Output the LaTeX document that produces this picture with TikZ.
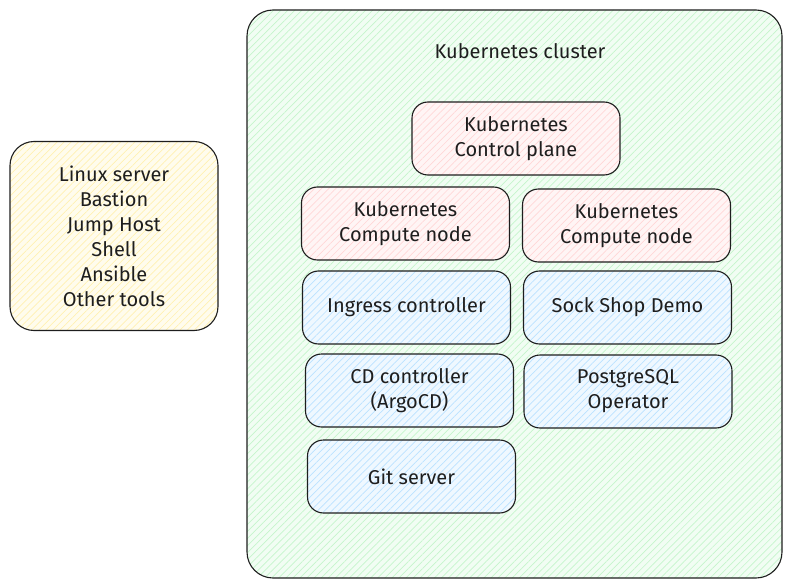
\documentclass[tikz,border=0pt]{standalone}
\usepackage{fontspec}
\setmainfont{Fira Sans}
\usetikzlibrary{patterns.meta}

\definecolor{ink}{HTML}{1E1E1E}
\definecolor{hatchgreen}{HTML}{B2F2BB}
\definecolor{hatchyellow}{HTML}{FFEC99}
\definecolor{hatchred}{HTML}{FFC9C9}
\definecolor{hatchblue}{HTML}{A5D8FF}

\begin{document}
\begin{tikzpicture}[x=1pt, y=-1pt, font=\fontsize{20}{25}\selectfont,
  sketch/.style={draw=ink, line width=1.1pt, rounded corners=16pt, align=center, text=ink, inner sep=0pt},
  hatched/.style={preaction={fill=#1!18}, pattern={Lines[angle=45,distance=5pt,line width=0.7pt]}, pattern color=#1!75},
  cluster/.style={sketch, hatched=hatchgreen, rounded corners=26pt, minimum width=535pt, minimum height=568pt},
  tools/.style={sketch, hatched=hatchyellow, rounded corners=24pt, minimum width=208pt, minimum height=189pt},
  infra/.style={sketch, hatched=hatchred, minimum width=208pt, minimum height=73pt},
  app/.style={sketch, hatched=hatchblue, minimum width=208pt, minimum height=73pt}]
      \useasboundingbox (0, 0) rectangle (792, 588);

      % left side
      \node[tools] (server) at (114, 236) {Linux server\\Bastion\\Jump Host\\Shell\\Ansible\\Other tools};

      % cluster frame
      \node[cluster] (cluster) at (514.5, 294) {};
      \node[text=ink] (title) at (520, 51) {Kubernetes cluster};

      \node[infra] (ctrl)  at (516, 138.5)   {Kubernetes\\Control plane};
      \node[infra] (comp1) at (405.5, 223.5) {Kubernetes\\Compute node};
      \node[infra] (comp2) at (626.5, 225.5) {Kubernetes\\Compute node};

      \node[app] (ingress) at (406.5, 307.5) {Ingress controller};
      \node[app] (sock)    at (627.5, 307.5) {Sock Shop Demo};
      \node[app] (cd)      at (409.5, 390.5) {CD controller\\(ArgoCD)};
      \node[app] (pg)      at (628, 391.5)   {PostgreSQL\\Operator};
      \node[app] (git)     at (411.5, 476.5) {Git server};
    \end{tikzpicture}
\end{document}
